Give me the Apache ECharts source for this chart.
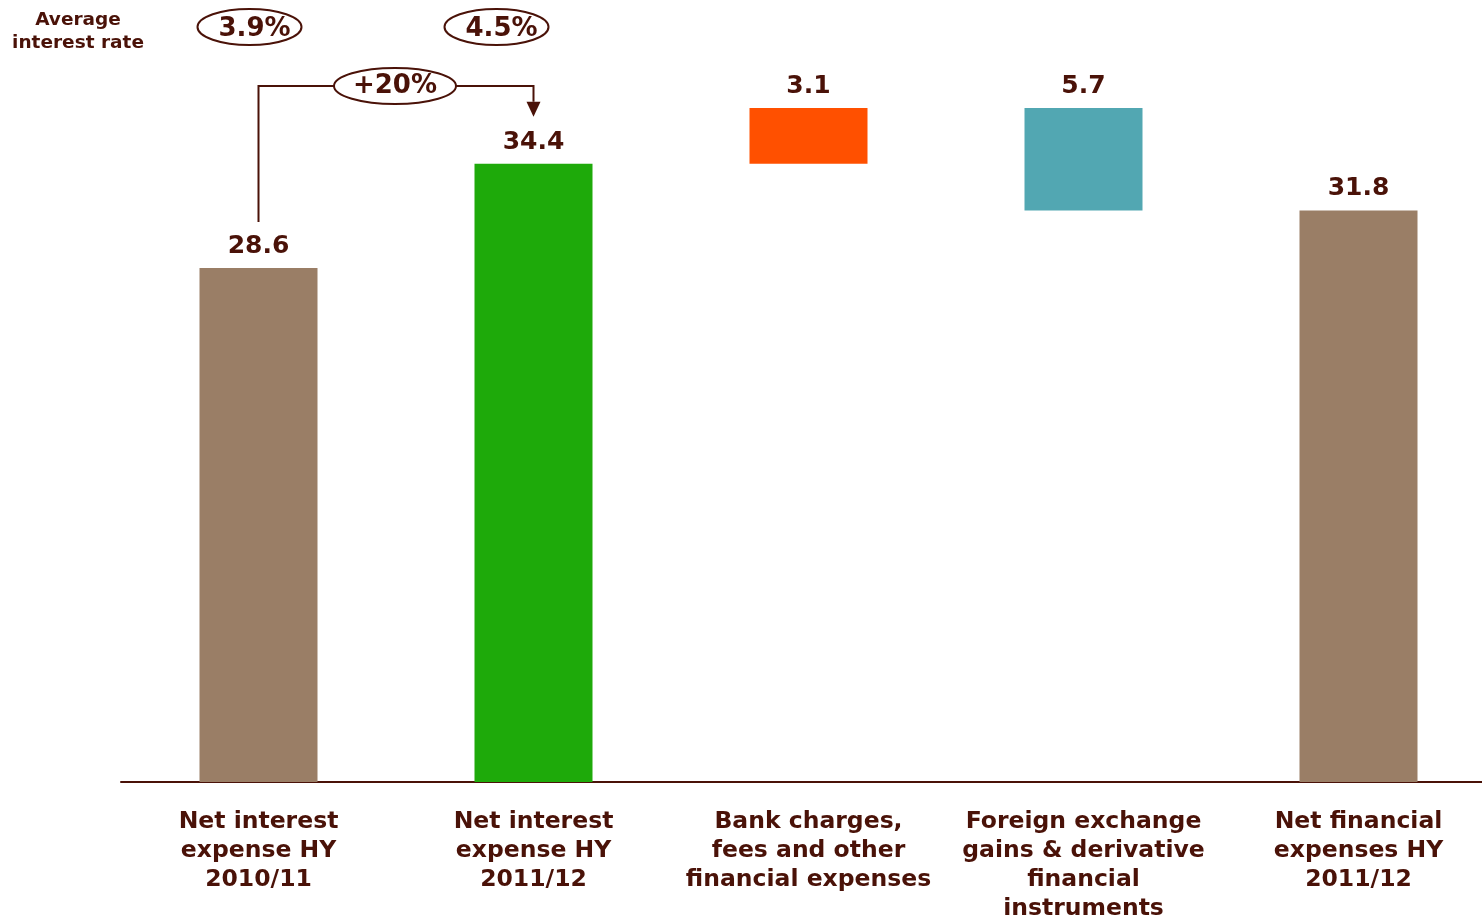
<!DOCTYPE html>
<html><head><meta charset="utf-8">
<script src="https://cdn.jsdelivr.net/npm/echarts@6/dist/echarts.min.js"></script>
<style>html,body{margin:0;padding:0;background:#fff;overflow:hidden}#c{width:1482px;height:916px}</style>
</head><body><div id="c"></div>
<script>
const categories = [
  'Net interest\nexpense HY\n2010/11',
  'Net interest\nexpense HY\n2011/12',
  'Bank charges,\nfees and other\nfinancial expenses',
  'Foreign exchange\ngains & derivative\nfinancial\ninstruments',
  'Net financial\nexpenses HY\n2011/12'
];
const values = [28.6, 34.4, 3.1, 5.7, 31.8];
const bases = [0, 0, 34.4, 31.8, 0];
const barColors = ['#9A7E66', '#1EAA0A', '#FF5000', '#52A7B2', '#9A7E66'];
const rateTitle = 'Average\ninterest rate';
const rateLabels = ['3.9%', '4.5%'];
const changeLabel = '+20%';

const TXT = '#4A1208';
const FONT = '"DejaVu Sans", Verdana, sans-serif';

const chart = echarts.init(document.getElementById('c'));
chart.setOption({
  animation: false,
  backgroundColor: '#fff',
  grid: { left: 121, width: 1375, top: 63, height: 719, containLabel: false, outerBoundsMode: 'none' },
  xAxis: {
    type: 'category', data: categories,
    axisLine: { lineStyle: { color: TXT, width: 2 } },
    axisTick: { show: false },
    axisLabel: { interval: 0, color: TXT, fontFamily: FONT, fontWeight: 'bold', fontSize: 23.5, lineHeight: 29, margin: 25 }
  },
  yAxis: { type: 'value', min: 0, max: 40, show: false, splitLine: { show: false } },
  series: [
    { type: 'bar', stack: 'w', data: bases, barWidth: 118, itemStyle: { color: 'transparent' }, silent: true },
    { type: 'bar', stack: 'w', data: values.map((v, i) => ({ value: v, itemStyle: { color: barColors[i] } })), barWidth: 118,
      label: { show: true, position: 'top', distance: 9, color: TXT, fontFamily: FONT, fontWeight: 'bold', fontSize: 25,
        formatter: p => p.value.toFixed(1) } }
  ]
});

function drawAnnotations() {
  const x0 = chart.convertToPixel({ xAxisIndex: 0 }, 0);
  const x1 = chart.convertToPixel({ xAxisIndex: 0 }, 1);
  const yTop0 = chart.convertToPixel({ yAxisIndex: 0 }, values[0]);
  const yTop1 = chart.convertToPixel({ yAxisIndex: 0 }, values[1]);
  const lineY = 86;
  const mid = (x0 + x1) / 2 - 1;
  const ellStyle = { fill: '#fff', stroke: TXT, lineWidth: 2 };
  const tStyle = (t, x, y, size) => ({ type: 'text', z: 10, style: { text: t, x: x, y: y, fill: TXT, font: 'bold ' + size + 'px ' + FONT, textAlign: 'center', textVerticalAlign: 'middle' } });
  const els = [
    { type: 'text', z: 10, style: { text: rateTitle, x: 78, y: 32, fill: TXT, font: 'bold 18.5px ' + FONT, textAlign: 'center', textVerticalAlign: 'middle', lineHeight: 23 } },
    { type: 'ellipse', shape: { cx: x0 - 9, cy: 27, rx: 52, ry: 18 }, style: ellStyle, z: 5 },
    tStyle(rateLabels[0], x0 - 4, 29, 26),
    { type: 'ellipse', shape: { cx: x1 - 37, cy: 27, rx: 52, ry: 18 }, style: ellStyle, z: 5 },
    tStyle(rateLabels[1], x1 - 32, 29, 26),
    { type: 'polyline', shape: { points: [[x0, yTop0 - 46], [x0, lineY], [x1, lineY], [x1, yTop1 - 62]] }, style: { stroke: TXT, lineWidth: 2, fill: null }, z: 4 },
    { type: 'polygon', shape: { points: [[x1 - 7, yTop1 - 62], [x1 + 7, yTop1 - 62], [x1, yTop1 - 47]] }, style: { fill: TXT }, z: 4 },
    { type: 'ellipse', shape: { cx: mid, cy: lineY, rx: 61, ry: 18 }, style: ellStyle, z: 5 },
    tStyle(changeLabel, mid, lineY, 26)
  ];
  chart.setOption({ graphic: { elements: els } });
}
drawAnnotations();
</script>
</body></html>
